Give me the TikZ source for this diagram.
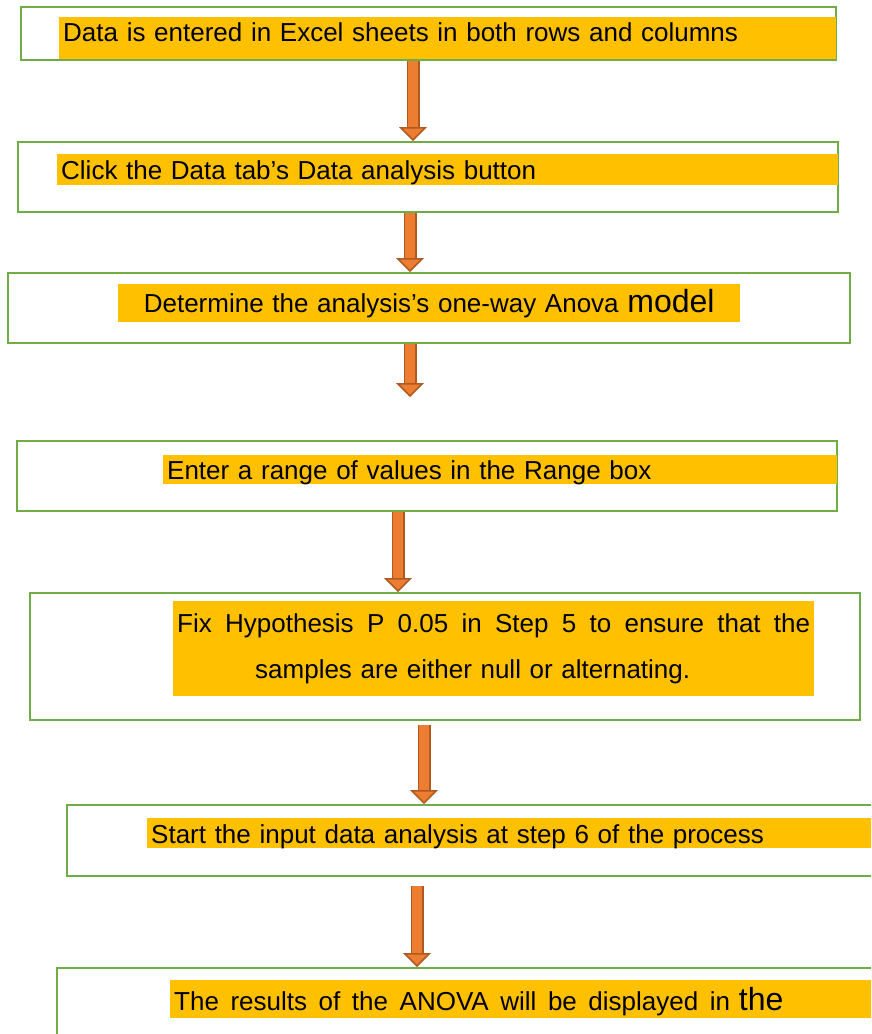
\documentclass[tikz,border=0pt]{standalone}
\usepackage{fontspec}
\setmainfont{Liberation Sans}
\usetikzlibrary{arrows.meta}
\definecolor{boxgreen}{HTML}{70AD47}
\definecolor{markyellow}{HTML}{FFC000}
\definecolor{arroworange}{HTML}{ED7D31}
\definecolor{arrowedge}{HTML}{AE5A21}
\newcommand{\spreadline}[2]{{\spaceskip=7pt plus 1fil\relax\makebox[#1][s]{#2}}}
\begin{document}
\begin{tikzpicture}
[x=1pt,y=-1pt,
stepbox/.style={draw=boxgreen,line width=2pt,rectangle,inner sep=0pt},
marknode/.style={fill=markyellow,inner sep=0pt,inner xsep=4pt,anchor=north west,
align=left,font=\fontsize{26}{30}\selectfont},
flowarrow/.style={draw=arrowedge,line width=1.5pt,double=arroworange,
double distance=10pt,
-{Triangle[width=28pt,length=14pt,line width=1.5pt,fill=arroworange]}}
]
\useasboundingbox (0,0) rectangle (871,1034);
\clip (0,0) rectangle (871,1034);
\node [stepbox,minimum width=815pt,minimum height=53pt] (b1) at (428.5,33.5) {};
\node [stepbox,minimum width=820pt,minimum height=70pt] (b2) at (428,177) {};
\node [stepbox,minimum width=842pt,minimum height=70pt] (b3) at (429,308) {};
\node [stepbox,minimum width=820pt,minimum height=70pt] (b4) at (427,476) {};
\node [stepbox,minimum width=830pt,minimum height=127pt] (b5) at (445,656.5) {};
\node [stepbox,minimum width=853pt,minimum height=71pt] (b6) at (493.5,840.5) {};
\node [stepbox,minimum width=873pt,minimum height=112pt] (b7) at (493.5,1024) {};
\node [marknode,text width=769pt,text height=24pt,text depth=18pt] (t1) at (59,17)
{Data is entered in Excel sheets in both rows and columns};
\node [marknode,text width=773pt,text height=25pt,text depth=6pt] (t2) at (57,154)
{Click the Data tab's Data analysis button};
\node [marknode,text width=614pt,text height=28pt,text depth=10pt,align=center] (t3)
at (118,284) {Determine the analysis's one-way Anova {\fontsize{32}{34}\selectfont model}};
\node [marknode,text width=666pt,text height=24pt,text depth=5pt] (t4) at (163,455)
{Enter a range of values in the Range box};
\node [marknode,text width=633pt,minimum height=95pt] (t5) at (173,601)
{\spreadline{633pt}{Fix Hypothesis P 0.05 in Step 5 to ensure that the}\\[16pt]
\hspace*{78pt}samples are either null or alternating.};
\node [marknode,text width=745pt,text height=25.5pt,text depth=4.5pt] (t6) at (147,818)
{Start the input data analysis at step 6 of the process};
\node [marknode,text width=750pt,text height=30pt,text depth=8pt] (t7) at (170,980)
{\spreadline{556pt}{The results of the ANOVA will be displayed in}
{\fontsize{32}{34}\selectfont the}};
\coordinate (e3) at (410,397);
\draw [flowarrow] ([xshift=-15.5pt]b1.south) -- ([xshift=-15.5pt]b1.south |- b2.north);
\draw [flowarrow] ([xshift=-18pt]b2.south) -- ([xshift=-18pt]b2.south |- b3.north);
\draw [flowarrow] ([xshift=-19pt]b3.south) -- (e3);
\draw [flowarrow] ([xshift=-29pt]b4.south) -- ([xshift=-29pt]b4.south |- b5.north);
\draw [flowarrow] ([xshift=-21pt,yshift=-4pt]b5.south) --
([xshift=-21pt]b5.south |- b6.north);
\draw [flowarrow] ([xshift=-76.5pt,yshift=-9pt]b6.south) --
([xshift=-76.5pt]b6.south |- b7.north);
\end{tikzpicture}
\end{document}
